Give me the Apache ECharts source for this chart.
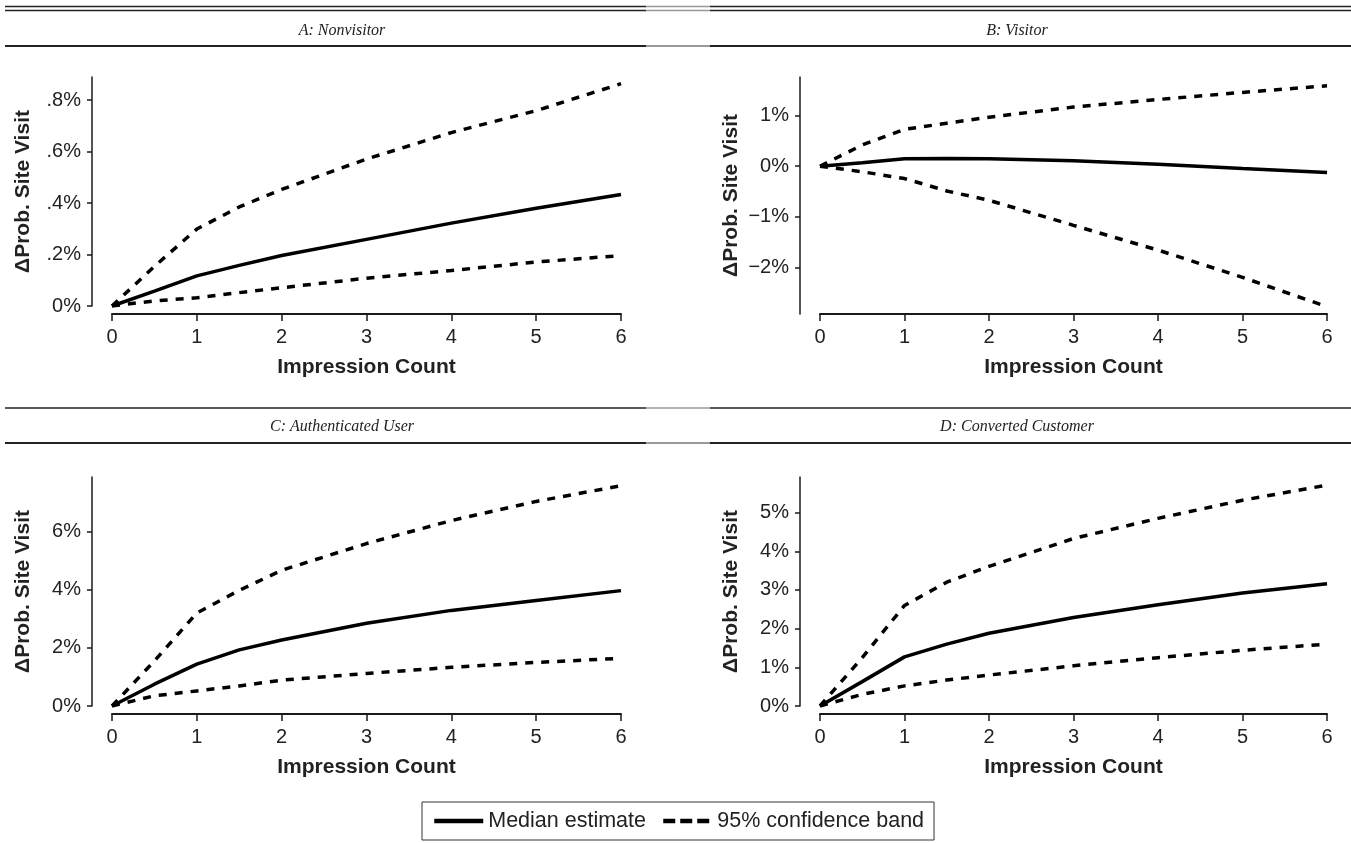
<!DOCTYPE html>
<html>
<head>
<meta charset="utf-8">
<script src="https://cdn.jsdelivr.net/npm/echarts@6/dist/echarts.min.js"></script>
<style>
html,body{margin:0;padding:0;background:#fff;}
#chart{width:1351px;height:843px;}
</style>
</head>
<body>
<div id="chart"></div>
<script>
var xVals = [0, 0.5, 1, 1.5, 2, 3, 4, 5, 6];

// A: Nonvisitor (percent)
var aMedian = [0, 0.058, 0.117, 0.158, 0.196, 0.259, 0.322, 0.380, 0.433];
var aUpper  = [0, 0.154, 0.299, 0.385, 0.453, 0.571, 0.674, 0.759, 0.864];
var aLower  = [0, 0.020, 0.032, 0.052, 0.071, 0.108, 0.138, 0.171, 0.196];
// B: Visitor
var bMedian = [0, 0.07, 0.146, 0.15, 0.146, 0.106, 0.04, -0.046, -0.126];
var bUpper  = [0, 0.42, 0.73, 0.85, 0.97, 1.17, 1.32, 1.46, 1.59];
var bLower  = [0, -0.11, -0.245, -0.49, -0.675, -1.17, -1.66, -2.20, -2.78];
// C: Authenticated User
var cMedian = [0, 0.75, 1.44, 1.93, 2.27, 2.85, 3.29, 3.63, 3.97];
var cUpper  = [0, 1.55, 3.20, 3.98, 4.67, 5.59, 6.38, 7.04, 7.58];
var cLower  = [0, 0.35, 0.52, 0.69, 0.89, 1.12, 1.33, 1.50, 1.64];
// D: Converted Customer
var dMedian = [0, 0.63, 1.27, 1.60, 1.88, 2.29, 2.62, 2.92, 3.16];
var dUpper  = [0, 1.25, 2.60, 3.20, 3.61, 4.33, 4.85, 5.32, 5.71];
var dLower  = [0, 0.30, 0.52, 0.67, 0.80, 1.04, 1.25, 1.44, 1.60];

// y tick labels per panel
var aTicks = [0, 0.2, 0.4, 0.6, 0.8];
var bTicks = [-2, -1, 0, 1];
var cTicks = [0, 2, 4, 6];
var dTicks = [0, 1, 2, 3, 4, 5];

var titles = ['A: Nonvisitor', 'B: Visitor', 'C: Authenticated User', 'D: Converted Customer'];
var seriesNames = ['Median estimate', '95% confidence band'];

var panels = [
  {left: 112, top: 77,  width: 509, height: 229, yMin: 0, yMax: 0.89, xOff: 8, ticks: aTicks, med: aMedian, up: aUpper, lo: aLower},
  {left: 820, top: 77,  width: 507, height: 237, yMin: -2.925, yMax: 1.765, xOff: 0, ticks: bTicks, med: bMedian, up: bUpper, lo: bLower},
  {left: 112, top: 477, width: 509, height: 229, yMin: 0, yMax: 7.88, xOff: 8, ticks: cTicks, med: cMedian, up: cUpper, lo: cLower},
  {left: 820, top: 477, width: 507, height: 229, yMin: 0, yMax: 5.92, xOff: 8, ticks: dTicks, med: dMedian, up: dUpper, lo: dLower}
];

var ink = '#1a1a1a';
var labelFont = "'Liberation Sans Narrow', 'Liberation Sans', Arial, sans-serif";
var boldFont = "'Liberation Sans', Arial, sans-serif";

function pct(v) {
  var s = String(+v.toFixed(2));
  if (s.indexOf('0.') === 0) s = s.substring(1);
  return s.replace('-', '\u2212') + '%';
}

function pairs(arr) {
  return xVals.map(function (x, k) { return [x, arr[k]]; });
}

var grids = [], xAxes = [], yAxes = [], series = [];
panels.forEach(function (p, i) {
  grids.push({left: p.left, top: p.top, width: p.width, height: p.height});
  xAxes.push({
    type: 'value', gridIndex: i, min: 0, max: 6, interval: 1, offset: p.xOff,
    splitLine: {show: false},
    axisLine: {show: true, onZero: false, lineStyle: {color: ink, width: 2}},
    axisTick: {show: true, length: 7, lineStyle: {color: ink, width: 1.5}},
    axisLabel: {fontSize: 20, color: '#222', margin: 13, fontFamily: labelFont},
    name: 'Impression Count', nameLocation: 'middle', nameGap: 43, nameMoveOverlap: false,
    nameTextStyle: {fontSize: 21, fontWeight: 'bold', color: '#222', fontFamily: boldFont}
  });
  yAxes.push({
    type: 'value', gridIndex: i, min: p.yMin, max: p.yMax, offset: 20,
    splitLine: {show: false},
    axisLine: {show: true, onZero: false, lineStyle: {color: ink, width: 1.5}},
    axisTick: {show: true, length: 5, customValues: p.ticks, lineStyle: {color: ink, width: 1.5}},
    axisLabel: {fontSize: 20, color: '#222', margin: 11, fontFamily: labelFont,
      customValues: p.ticks, formatter: pct},
    name: '\u0394Prob. Site Visit', nameLocation: 'middle', nameGap: 58, nameMoveOverlap: false,
    nameTextStyle: {fontSize: 21, fontWeight: 'bold', color: '#222', fontFamily: boldFont}
  });
  series.push({
    name: seriesNames[0], type: 'line', xAxisIndex: i, yAxisIndex: i,
    data: pairs(p.med), symbol: 'none', z: 3, color: '#000',
    lineStyle: {color: '#000', width: 3.5}
  });
  [p.up, p.lo].forEach(function (arr) {
    series.push({
      name: seriesNames[1], type: 'line', xAxisIndex: i, yAxisIndex: i,
      data: pairs(arr), symbol: 'none', z: 2, color: '#000',
      lineStyle: {color: '#000', width: 3.5, type: [8, 8]}
    });
  });
});

// rules above and below each row of panel headings
var graphics = [];
function rule(y, w) {
  graphics.push({type: 'line', shape: {x1: 5, y1: y, x2: 646, y2: y}, style: {stroke: '#222', lineWidth: w}});
  graphics.push({type: 'line', shape: {x1: 646, y1: y, x2: 710, y2: y}, style: {stroke: '#999', lineWidth: w}});
  graphics.push({type: 'line', shape: {x1: 710, y1: y, x2: 1351, y2: y}, style: {stroke: '#222', lineWidth: w}});
}
rule(6.5, 1.5);
rule(10.5, 1.5);
rule(46, 2);
rule(408, 1.5);
rule(443, 2);

var titleOpts = titles.map(function (t, i) {
  return {
    text: t, left: i % 2 === 0 ? 337 : 1012, top: i < 2 ? 18 : 414, textAlign: 'center',
    textStyle: {fontFamily: "'Liberation Serif', 'Times New Roman', serif", fontStyle: 'italic',
      fontWeight: 'normal', fontSize: 16, color: '#222'}
  };
});

var chart = echarts.init(document.getElementById('chart'));
chart.setOption({
  backgroundColor: '#fff',
  animation: false,
  title: titleOpts,
  grid: grids,
  xAxis: xAxes,
  yAxis: yAxes,
  legend: {
    data: [
      {name: seriesNames[0], lineStyle: {width: 4.5}},
      {name: seriesNames[1], lineStyle: {width: 4.5, type: [12, 5]}}
    ],
    left: 422, top: 802,
    padding: [8, 10],
    itemGap: 15, itemWidth: 49, itemHeight: 14,
    itemStyle: {opacity: 0},
    borderColor: '#333', borderWidth: 1,
    textStyle: {fontSize: 21.5, color: '#222', fontFamily: boldFont}
  },
  graphic: graphics,
  series: series
});
</script>
</body>
</html>
